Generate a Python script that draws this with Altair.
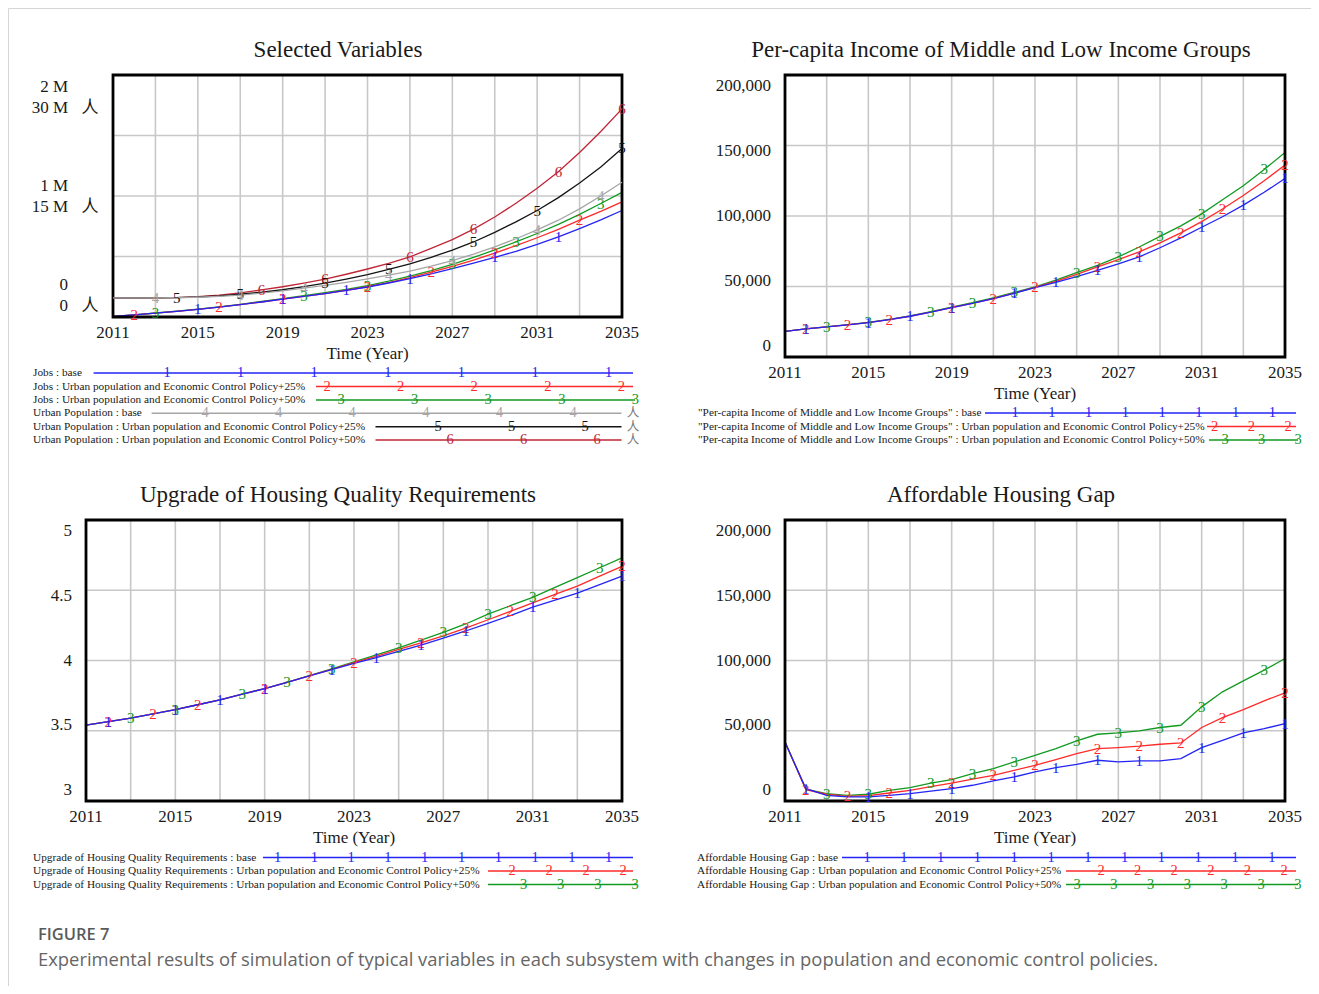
import altair as alt
import pandas as pd

W, H = 1303, 978
YEARS = list(range(2011, 2036))

# ---------------- data ----------------
# Selected Variables: Jobs (thousand persons), Urban Population (million 人)
jobs_base_k = [5, 18, 32, 47, 63, 82, 102, 124, 147, 170, 194, 220, 248, 281, 317, 357, 400, 445, 492, 543, 600, 662, 730, 802, 880]
jobs_p25_k = [5, 18, 32, 47, 63, 82, 102, 124, 147, 170, 194, 221, 250, 285, 325, 370, 418, 470, 528, 590, 655, 725, 800, 873, 952]
jobs_p50_k = [5, 18, 33, 48, 65, 84, 105, 128, 152, 176, 201, 229, 259, 296, 338, 384, 435, 492, 555, 621, 690, 765, 848, 938, 1030]
pop_base_m = [2.36, 2.36, 2.37, 2.39, 2.45, 2.56, 2.72, 2.95, 3.25, 3.58, 3.93, 4.30, 4.72, 5.20, 5.70, 6.30, 7.00, 7.80, 8.70, 9.70, 10.8, 12.0, 13.4, 15.0, 16.7]
pop_p25_m = [2.36, 2.36, 2.37, 2.40, 2.48, 2.62, 2.82, 3.07, 3.38, 3.76, 4.20, 4.70, 5.25, 5.90, 6.60, 7.40, 8.30, 9.30, 10.5, 11.8, 13.2, 14.8, 16.6, 18.6, 20.9]
pop_p50_m = [2.36, 2.36, 2.37, 2.41, 2.52, 2.72, 3.00, 3.35, 3.75, 4.20, 4.70, 5.30, 5.95, 6.65, 7.45, 8.50, 9.60, 10.9, 12.4, 14.1, 15.95, 18.0, 20.4, 23.0, 25.8]

# Per-capita income of middle and low income groups
income_base = [18200, 20000, 21300, 22800, 24400, 26500, 28900, 31800, 35000, 38000, 41400, 45200, 49200, 53000, 57000, 61500, 66000, 71000, 77500, 84500, 92000, 99500, 107700, 116800, 126600]
income_p25 = [18200, 20000, 21300, 22800, 24400, 26500, 28900, 31800, 35000, 38000, 41400, 45300, 49400, 53600, 58600, 63900, 69000, 74600, 81000, 88000, 96000, 105000, 114500, 125000, 136100]
income_p50 = [18200, 20000, 21400, 22900, 24500, 26700, 29200, 32200, 35400, 38500, 42000, 45800, 49800, 54500, 59800, 65000, 71000, 78000, 85500, 93000, 101500, 111500, 121500, 133000, 145000]

# Upgrade of housing quality requirements
quality_base = [3.540, 3.565, 3.590, 3.620, 3.650, 3.685, 3.720, 3.760, 3.800, 3.845, 3.890, 3.935, 3.980, 4.020, 4.065, 4.110, 4.160, 4.210, 4.265, 4.320, 4.380, 4.430, 4.480, 4.540, 4.600]
quality_p25 = [3.540, 3.565, 3.590, 3.620, 3.650, 3.685, 3.720, 3.760, 3.800, 3.845, 3.890, 3.937, 3.985, 4.030, 4.080, 4.125, 4.175, 4.230, 4.290, 4.350, 4.410, 4.470, 4.530, 4.600, 4.670]
quality_p50 = [3.540, 3.565, 3.590, 3.620, 3.650, 3.685, 3.720, 3.760, 3.800, 3.845, 3.892, 3.940, 3.990, 4.040, 4.090, 4.145, 4.200, 4.260, 4.330, 4.390, 4.450, 4.520, 4.590, 4.660, 4.730]

# Affordable housing gap
gap_base = [42000, 8800, 4000, 2900, 2900, 4000, 5200, 7000, 8800, 11200, 14300, 17100, 20700, 23800, 26100, 29000, 27800, 28500, 28500, 30200, 38000, 43200, 48500, 51500, 55100]
gap_p25 = [42000, 8100, 4800, 3300, 3800, 5700, 7600, 10200, 12800, 15500, 18300, 21800, 25400, 29500, 33700, 37300, 38000, 39000, 40400, 41300, 52300, 59400, 65100, 71300, 77000]
gap_p50 = [42000, 8500, 5200, 4000, 4800, 7600, 9500, 12800, 15200, 19500, 23000, 27800, 32500, 37300, 42800, 47500, 48500, 49900, 52300, 53900, 67000, 77700, 85500, 93100, 101400]

# tick values and labels
x_grid_years = [2013, 2015, 2017, 2019, 2021, 2023, 2025, 2027, 2029, 2031, 2033]
x_tick_years = [2011, 2015, 2019, 2023, 2027, 2031, 2035]
jobs_ticks = [0, 1000, 2000]
jobs_tick_labels = ["0", "1 M", "2 M"]
pop_ticks = [0, 15, 30]
pop_tick_labels = ["0", "15 M", "30 M"]
money_ticks = [0, 50000, 100000, 150000, 200000]
money_tick_labels = ["0", "50,000", "100,000", "150,000", "200,000"]
quality_ticks = [3, 3.5, 4, 4.5, 5]
quality_tick_labels = ["3", "3.5", "4", "4.5", "5"]

POLICY25 = "Urban population and Economic Control Policy+25%"
POLICY50 = "Urban population and Economic Control Policy+50%"

# ---------------- style ----------------
SERIF = "Liberation Serif"
CJK = "Noto Sans CJK SC"
SANS = "Open Sans"
BLUE, RED, GREEN = "#2424f5", "#ff2a2a", "#129a22"
GRAY, BLACK, DRED = "#a6a6a6", "#141414", "#c02636"
GRID = "#c8c8c8"
TXT = "#1a1a1a"
MARK_SIZE = 15

PANELS = {
    "TL": dict(x0=105, x1=614, y0=67, y1=309),
    "TR": dict(x0=777, x1=1277, y0=67, y1=349),
    "BL": dict(x0=78, x1=614, y0=512, y1=793),
    "BR": dict(x0=777, x1=1277, y0=512, y1=793),
}

M_TL = {
    1: [2015, 2019, 2022, 2025, 2029, 2032],
    2: [2012, 2016, 2019, 2023, 2026, 2029, 2033],
    3: [2013, 2020, 2023, 2027, 2030, 2034],
    4: [2013, 2017, 2020, 2024, 2027, 2031, 2034],
    5: [2014, 2017, 2021, 2024, 2028, 2031, 2035],
    6: [2018, 2021, 2025, 2028, 2032, 2035],
}
M3 = {
    1: [2012, 2015, 2017, 2019, 2022, 2024, 2026, 2028, 2031, 2033, 2035],
    2: [2012, 2014, 2016, 2019, 2021, 2023, 2026, 2028, 2030, 2032, 2035],
    3: [2013, 2015, 2018, 2020, 2022, 2025, 2027, 2029, 2031, 2034],
}


def one():
    return pd.DataFrame({"k": [0]})


def sx(p):
    return alt.Scale(domain=[2011, 2035], range=[p["x0"], p["x1"]], nice=False, zero=False)


def sy(p, dom):
    return alt.Scale(domain=dom, range=[p["y1"], p["y0"]], nice=False, zero=False)


def XD(v, sc):
    return alt.XDatum(v, type="quantitative", scale=sc, axis=None)


def YD(v, sc):
    return alt.YDatum(v, type="quantitative", scale=sc, axis=None)


def frame_layers(p, dom, hgrid):
    X, Y = sx(p), sy(p, dom)
    vg = alt.Chart(pd.DataFrame({"yr": x_grid_years})).mark_rule(color=GRID, strokeWidth=1.6).encode(
        x=alt.X("yr:Q", scale=X, axis=None), y=YD(dom[0], Y), y2=alt.Y2Datum(dom[1]))
    hg = alt.Chart(pd.DataFrame({"v": hgrid})).mark_rule(color=GRID, strokeWidth=1.6).encode(
        y=alt.Y("v:Q", scale=Y, axis=None), x=XD(2011, X), x2=alt.X2Datum(2035))
    return [vg, hg]


def border_layer(p, dom):
    X, Y = sx(p), sy(p, dom)
    return alt.Chart(one()).mark_rect(fill="transparent", stroke="black", strokeWidth=2.8).encode(
        x=XD(2011, X), x2=alt.X2Datum(2035), y=YD(dom[0], Y), y2=alt.Y2Datum(dom[1]))


def xlabel_layers(p, dom):
    X, Y = sx(p), sy(p, dom)
    df = pd.DataFrame({"yr": x_tick_years, "t": [str(v) for v in x_tick_years]})
    lab = alt.Chart(df).mark_text(font=SERIF, fontSize=17, dy=15.5, baseline="middle", color=TXT).encode(
        x=alt.X("yr:Q", scale=X, axis=None), y=YD(dom[0], Y), text="t:N")
    ttl = alt.Chart(one()).mark_text(text="Time (Year)", font=SERIF, fontSize=17, dy=37, baseline="middle", color=TXT).encode(
        x=XD(2023, X), y=YD(dom[0], Y))
    return [lab, ttl]


def ylabel_layer(p, dom, ticks, labels, off=11, dx=-14, dy=0, align="right", font=SERIF, size=17, color=TXT, text=None):
    X, Y = sx(p), sy(p, dom)
    hpx = p["y1"] - p["y0"]
    k = 2.0 * off / hpx
    mid = (dom[0] + dom[1]) / 2.0
    df = pd.DataFrame({"v": ticks, "t": labels})
    mk = dict(font=font, fontSize=size, align=align, baseline="middle", dx=dx, dy=dy, color=color)
    enc = dict(x=XD(2011, X), y=alt.Y("lp:Q", scale=Y, axis=None))
    if text is not None:
        mk["text"] = text
    else:
        enc["text"] = "t:N"
    return alt.Chart(df).transform_calculate(lp=f"datum.v*{1 - k} + {mid * k}").mark_text(**mk).encode(**enc)


def series_layers(p, dom, vals, color, digit, years_marked):
    X, Y = sx(p), sy(p, dom)
    df = pd.DataFrame({"year": YEARS, "v": vals})
    ln = alt.Chart(df).mark_line(color=color, strokeWidth=1.3).encode(
        x=alt.X("year:Q", scale=X, axis=None), y=alt.Y("v:Q", scale=Y, axis=None))
    mk = alt.Chart(df).transform_filter(alt.FieldOneOfPredicate(field="year", oneOf=years_marked)).mark_text(
        text=digit, color=color, font=SERIF, fontSize=MARK_SIZE, baseline="middle").encode(
        x=alt.X("year:Q", scale=X, axis=None), y=alt.Y("v:Q", scale=Y, axis=None))
    return ln, mk


def three_series_panel(p, dom, hgrid, vals3, ticks, tick_labels, markers):
    layers = frame_layers(p, dom, hgrid)
    cols = [BLUE, RED, GREEN]
    lines, marks = [], []
    for i in (2, 1, 0):
        ln, mk = series_layers(p, dom, vals3[i], cols[i], str(i + 1), markers[i + 1])
        lines.append(ln)
        marks.append(mk)
    layers += lines + [border_layer(p, dom)] + marks
    layers += xlabel_layers(p, dom)
    layers.append(ylabel_layer(p, dom, ticks, tick_labels, off=11, dx=-14))
    return alt.layer(*layers)


# ---------------- panels ----------------
P = PANELS["TL"]
JD, PD_ = [0, 2000], [0, 30]
tl_jobs = frame_layers(P, JD, [500, 1000, 1500])
jl, jm = [], []
for vals, col, d in ((jobs_p50_k, GREEN, "3"), (jobs_p25_k, RED, "2"), (jobs_base_k, BLUE, "1")):
    ln, mk = series_layers(P, JD, vals, col, d, M_TL[int(d)])
    jl.append(ln)
    jm.append(mk)
tl_jobs += jl + [border_layer(P, JD)] + jm + xlabel_layers(P, JD)
tl_jobs.append(ylabel_layer(P, JD, jobs_ticks, jobs_tick_labels, off=22, dx=-45, dy=-10.5))
tl_jobs_chart = alt.layer(*tl_jobs)

tl_pop = []
pl, pm = [], []
for vals, col, d in ((pop_p50_m, DRED, "6"), (pop_p25_m, BLACK, "5"), (pop_base_m, GRAY, "4")):
    ln, mk = series_layers(P, PD_, vals, col, d, M_TL[int(d)])
    pl.append(ln)
    pm.append(mk)
tl_pop += pl + pm
tl_pop.append(ylabel_layer(P, PD_, pop_ticks, pop_tick_labels, off=22, dx=-45, dy=10.5))
tl_pop.append(ylabel_layer(P, PD_, pop_ticks, pop_tick_labels, off=22, dx=-23, dy=10.5, align="center",
                           font=CJK, size=17, text="人"))
tl_pop_chart = alt.layer(*tl_pop)

tr_chart = three_series_panel(PANELS["TR"], [0, 200000], [50000, 100000, 150000],
                              [income_base, income_p25, income_p50], money_ticks, money_tick_labels, M3)
bl_chart = three_series_panel(PANELS["BL"], [3, 5], [3.5, 4, 4.5],
                              [quality_base, quality_p25, quality_p50], quality_ticks, quality_tick_labels, M3)
br_chart = three_series_panel(PANELS["BR"], [0, 200000], [50000, 100000, 150000],
                              [gap_base, gap_p25, gap_p50], money_ticks, money_tick_labels, M3)

# ---------------- page-level text: titles, legends, caption ----------------
PX = alt.Scale(domain=[0, W], range=[0, W], nice=False, zero=False)
PY = alt.Scale(domain=[0, H], range=[0, H], nice=False, zero=False)


def ptext(txt, x, y, **kw):
    return alt.Chart(one()).mark_text(text=txt, baseline="middle", **kw).encode(x=XD(x, PX), y=YD(y, PY))


page = []
page.append(alt.Chart(one()).mark_rect(fill="transparent", stroke="#d5d5d5", strokeWidth=1).encode(
    x=XD(0.5, PX), x2=alt.X2Datum(1500), y=YD(0.5, PY), y2=alt.Y2Datum(1200)))

for txt, x, y in (("Selected Variables", 330, 42),
                  ("Per-capita Income of Middle and Low Income Groups", 993, 42),
                  ("Upgrade of Housing Quality Requirements", 330, 487),
                  ("Affordable Housing Gap", 993, 487)):
    page.append(ptext(txt, x, y, font=SERIF, fontSize=23, align="center", color=TXT))


def legend_row(label, color, digit, tx, ty, lx0, lx1, m0, step, n, unit_x=None):
    out = [ptext(label, tx, ty, font=SERIF, fontSize=11.3, align="left", color=TXT)]
    out.append(alt.Chart(one()).mark_rule(color=color, strokeWidth=1.5).encode(
        x=XD(lx0, PX), x2=alt.X2Datum(lx1), y=YD(ty, PY)))
    df = pd.DataFrame({"x": [m0 + i * step for i in range(n)]})
    out.append(alt.Chart(df).mark_text(text=digit, color=color, font=SERIF, fontSize=14.5, baseline="middle").encode(
        x=alt.X("x:Q", scale=PX, axis=None), y=YD(ty, PY)))
    if unit_x is not None:
        out.append(ptext("人", unit_x, ty, font=CJK, fontSize=12.5, align="center", color="#7a7a7a"))
    return out


# top-left legend
TLR = [365, 378.5, 392, 405.3, 418.7, 432]
page += legend_row("Jobs : base", BLUE, "1", 25, TLR[0], 85.6, 625, 159, 73.6, 7)
page += legend_row("Jobs : " + POLICY25, RED, "2", 25, TLR[1], 308, 625, 319, 73.6, 5)
page += legend_row("Jobs : " + POLICY50, GREEN, "3", 25, TLR[2], 308, 627, 333, 73.6, 5)
page += legend_row("Urban Population : base", GRAY, "4", 25, TLR[3], 143.6, 613.5, 197, 73.6, 6, unit_x=625)
page += legend_row("Urban Population : " + POLICY25, BLACK, "5", 25, TLR[4], 367.5, 613.5, 430, 73.6, 3, unit_x=625)
page += legend_row("Urban Population : " + POLICY50, DRED, "6", 25, TLR[5], 367.5, 613.5, 442, 73.6, 3, unit_x=625)

# top-right legend
TRR = [405, 418.5, 432]
INC = '"Per-capita Income of Middle and Low Income Groups" : '
page += legend_row(INC + "base", BLUE, "1", 690, TRR[0], 977, 1288, 1007, 36.75, 8)
page += legend_row(INC + POLICY25, RED, "2", 690, TRR[1], 1199, 1288, 1206.5, 36.75, 3)
page += legend_row(INC + POLICY50, GREEN, "3", 690, TRR[2], 1201, 1290, 1217, 36.5, 3)

# bottom-left legend
BLR = [849.5, 863, 876.5]
UHQ = "Upgrade of Housing Quality Requirements : "
page += legend_row(UHQ + "base", BLUE, "1", 25, BLR[0], 255, 625, 269.5, 36.8, 10)
page += legend_row(UHQ + POLICY25, RED, "2", 25, BLR[1], 480, 625, 504, 37, 4)
page += legend_row(UHQ + POLICY50, GREEN, "3", 25, BLR[2], 480, 629, 515.5, 37.2, 4)

# bottom-right legend
AHG = "Affordable Housing Gap : "
page += legend_row(AHG + "base", BLUE, "1", 689, BLR[0], 834, 1288, 859, 36.8, 12)
page += legend_row(AHG + POLICY25, RED, "2", 689, BLR[1], 1058, 1288, 1093, 36.6, 6)
page += legend_row(AHG + POLICY50, GREEN, "3", 689, BLR[2], 1058, 1290, 1069, 36.8, 7)

# caption
page.append(ptext("FIGURE 7", 30, 927, font=SANS, fontSize=16.5, fontWeight=600, align="left", color="#5a5a5a"))
page.append(ptext("Experimental results of simulation of typical variables in each subsystem with changes in "
                  "population and economic control policies.", 30, 952, font=SANS, fontSize=18.4,
                  align="left", color="#666666"))
page_chart = alt.layer(*page)

chart = alt.layer(tl_jobs_chart, tl_pop_chart, tr_chart, bl_chart, br_chart, page_chart).resolve_scale(
    x="independent", y="independent"
).properties(
    width=W, height=H, padding=0, autosize=alt.AutoSizeParams(type="none")
).configure_view(stroke="transparent")

chart.save("out.html", embed_options={"renderer": "svg", "actions": False})
